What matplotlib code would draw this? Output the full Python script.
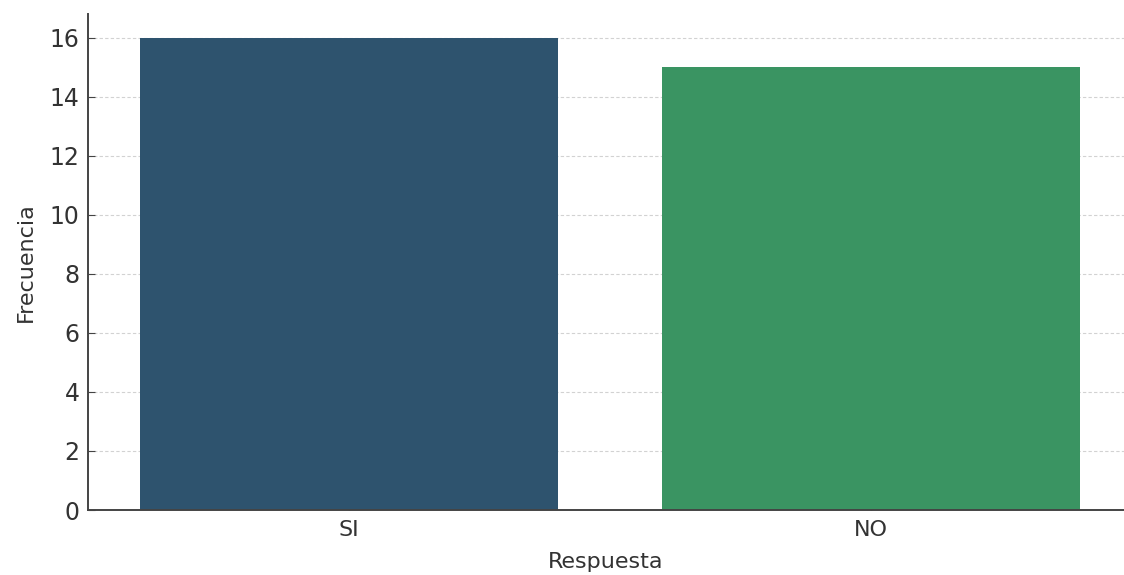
import matplotlib
matplotlib.use("Agg")
import matplotlib.pyplot as plt

categories = ["SI", "NO"]
values = [16, 15]
colors = ["#2e536e", "#3a9462"]

fig = plt.figure(figsize=(11.24, 5.75), dpi=100)
ax = fig.add_axes([88/1124, 65/575, (1124-88)/1124, (510-14)/575])

x = list(range(len(categories)))
ax.bar(x, values, width=0.8, color=colors, zorder=2)
ax.set_xticks(x)
ax.set_xticklabels(categories)
ax.set_xlim(-0.5, 1.485)
ax.set_ylim(0, 16.8)
ax.set_yticks(range(0, 17, 2))

ax.grid(axis="y", linestyle=(0, (3, 2)), color="#d2d2d2", linewidth=0.8, zorder=0)
ax.set_axisbelow(True)
for s in ["top", "right"]:
    ax.spines[s].set_visible(False)
for s in ["left", "bottom"]:
    ax.spines[s].set_color("#444444")
    ax.spines[s].set_linewidth(1.4)

ax.tick_params(axis="both", direction="in", length=5, colors="#444444", labelcolor="#333333")
ax.tick_params(axis="y", pad=6, labelsize=17)
ax.tick_params(axis="x", pad=7.5, labelsize=16)
ax.set_xlabel("Respuesta", fontsize=16, color="#333333", labelpad=8)
ax.set_ylabel("Frecuencia", fontsize=16, color="#333333", labelpad=10)

fig.savefig("out.png", dpi=100)
